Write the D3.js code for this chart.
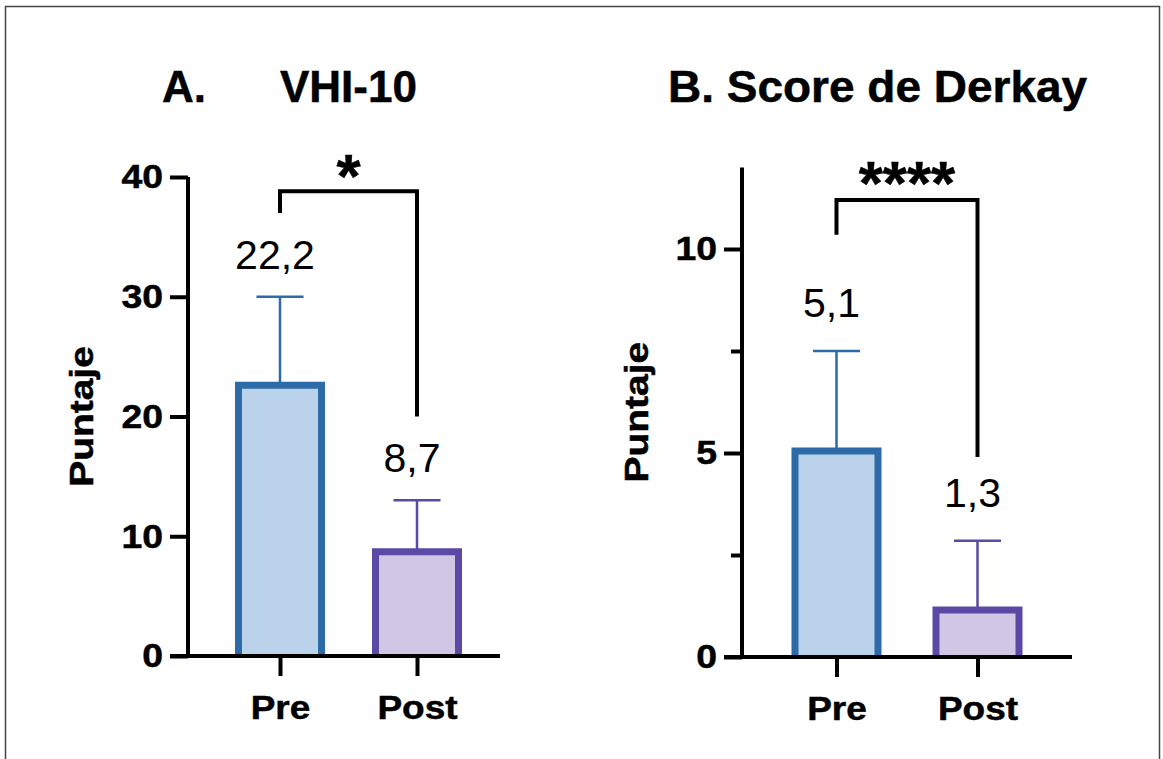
<!DOCTYPE html>
<html>
<head>
<meta charset="utf-8">
<script src="https://cdn.jsdelivr.net/npm/d3@7"></script>
<style>
  html, body { margin: 0; padding: 0; background: #fff; }
  svg { display: block; }
  text { font-family: "Liberation Sans", Arial, Helvetica, sans-serif; fill: #000; }
  .heavy { stroke: #000; stroke-width: 0.5px; }
</style>
</head>
<body>
<svg id="chart" width="1163" height="759"></svg>
<script>
// ---- data ----
const categories = ["Pre", "Post"];

const vhiMeans = [22.6, 8.7];
const vhiErrTop = [30, 13];
const vhiLabels = ["22,2", "8,7"];
const vhiTicks = [0, 10, 20, 30, 40];
const vhiBracket = [37, 38.8, 20];   // left leg end, top, right leg end
const vhiSig = "*";

const derkayMeans = [5.05, 1.15];
const derkayErrTop = [7.5, 2.85];
const derkayLabels = ["5,1", "1,3"];
const derkayTicks = [0, 5, 10];
const derkayMinorTicks = [2.5, 7.5];
const derkayBracket = [10.35, 11.2, 4.9];
const derkaySig = "****";

const titlesA = ["A.", "VHI-10"];
const titleB = "B. Score de Derkay";
const yLabel = "Puntaje";

// ---- styles ----
const fills = ["#bad2ea", "#d1c6e3"];
const strokes = ["#2d6aa8", "#5a4aa6"];

const svg = d3.select("#chart");

svg.append("rect")
  .attr("x", 5.5).attr("y", 6.5)
  .attr("width", 1154).attr("height", 800)
  .attr("fill", "none").attr("stroke", "#444").attr("stroke-width", 1.5);

function stretch(sel, f) {
  sel.each(function () {
    const len = this.getComputedTextLength();
    d3.select(this).attr("textLength", len * f).attr("lengthAdjust", "spacingAndGlyphs");
  });
}

function panel(cfg) {
  const g = svg.append("g");
  const y = d3.scaleLinear().domain(cfg.yDomain).range(cfg.yRange);
  const x = d3.scalePoint().domain(categories).range(cfg.xRange);
  const y0 = y(0);
  const barW = 83, capW = 47;

  // error bars
  g.selectAll(".err").data(categories).enter().append("path")
    .attr("d", (c, i) => {
      const cx = x(c);
      return `M${cx},${y(cfg.means[i])}V${y(cfg.errs[i])}M${cx - capW / 2},${y(cfg.errs[i])}H${cx + capW / 2}`;
    })
    .attr("fill", "none")
    .attr("stroke", (c, i) => strokes[i])
    .attr("stroke-width", 2.5);

  // bars (open at bottom)
  g.selectAll(".bar").data(categories).enter().append("path")
    .attr("d", (c, i) => {
      const l = x(c) - barW / 2, r = x(c) + barW / 2, t = y(cfg.means[i]);
      return `M${l},${y0}V${t}H${r}V${y0}`;
    })
    .attr("fill", (c, i) => fills[i])
    .attr("stroke", (c, i) => strokes[i])
    .attr("stroke-width", 7)
    .attr("stroke-linejoin", "miter");

  // y axis
  const ya = g.append("g").attr("transform", `translate(${cfg.axisX},0)`)
    .call(d3.axisLeft(y).tickValues(cfg.ticks).tickSize(18).tickSizeOuter(0).tickPadding(7).tickFormat(d3.format("d")));
  ya.select(".domain").attr("stroke", "#000").attr("stroke-width", 4).attr("d", `M0,${cfg.yRange[0] + 2}V${cfg.yRange[1]}`);
  ya.selectAll(".tick line").attr("stroke", "#000").attr("stroke-width", 4);
  ya.selectAll(".tick text").attr("font-size", 34).attr("font-weight", "bold").attr("class", "heavy")
    .style("font-family", '"Liberation Sans", Arial, sans-serif').call(stretch, 1.1);

  if (cfg.minor) {
    g.append("g").attr("transform", `translate(${cfg.axisX},0)`)
      .call(d3.axisLeft(y).tickValues(cfg.minor).tickSize(11).tickSizeOuter(0).tickFormat(""))
      .call(s => s.select(".domain").remove())
      .selectAll(".tick line").attr("stroke", "#000").attr("stroke-width", 4);
  }

  // x axis
  const xa = g.append("g").attr("transform", `translate(0,${y0})`)
    .call(d3.axisBottom(x).tickSize(20).tickSizeOuter(0).tickPadding(20));
  xa.select(".domain").attr("stroke", "#000").attr("stroke-width", 4)
    .attr("d", `M${cfg.axisX - 18},0H${cfg.xAxisEnd}`);
  xa.selectAll(".tick line").attr("stroke", "#000").attr("stroke-width", 4);
  xa.selectAll(".tick text").attr("font-size", 33).attr("font-weight", "bold").attr("class", "heavy")
    .style("font-family", '"Liberation Sans", Arial, sans-serif').call(stretch, 1.12);

  // value labels
  g.selectAll(".vlab").data(categories).enter().append("text")
    .attr("x", c => x(c) - 5)
    .attr("y", (c, i) => y(cfg.errs[i]) - cfg.labelOffset)
    .attr("text-anchor", "middle")
    .attr("font-size", 41)
    .text((c, i) => cfg.labels[i]);

  // significance bracket
  const xl = x(categories[0]), xr = x(categories[1]);
  g.append("path")
    .attr("d", `M${xl},${y(cfg.bracket[0])}V${y(cfg.bracket[1])}H${xr}V${y(cfg.bracket[2])}`)
    .attr("fill", "none").attr("stroke", "#000").attr("stroke-width", 4)
    .attr("stroke-linejoin", "miter");
  g.append("text")
    .attr("x", (xl + xr) / 2).attr("y", cfg.sigY)
    .attr("text-anchor", "middle")
    .attr("font-size", 62).attr("font-weight", "bold").attr("class", "heavy")
    .text(cfg.sig);

  // y label
  const cy = (cfg.yRange[0] + cfg.yRange[1]) / 2;
  g.append("text")
    .attr("transform", `translate(${cfg.yLabelX},${cy}) rotate(-90)`)
    .attr("text-anchor", "middle")
    .attr("font-size", 33).attr("font-weight", "bold").attr("class", "heavy")
    .text(yLabel).call(stretch, 1.18);
}

panel({
  yDomain: [0, 40], yRange: [656, 177], xRange: [280, 417],
  axisX: 188, xAxisEnd: 500, ticks: vhiTicks, minor: null,
  means: vhiMeans, errs: vhiErrTop, labels: vhiLabels, labelOffset: 28,
  bracket: vhiBracket, sig: vhiSig, sigY: 197, yLabelX: 93
});

panel({
  yDomain: [0, 12], yRange: [657, 167.4], xRange: [836.5, 977.5],
  axisX: 742, xAxisEnd: 1072, ticks: derkayTicks, minor: derkayMinorTicks,
  means: derkayMeans, errs: derkayErrTop, labels: derkayLabels, labelOffset: 34,
  bracket: derkayBracket, sig: derkaySig, sigY: 204, yLabelX: 648
});

// titles
svg.append("text").attr("x", 162).attr("y", 102).attr("font-size", 44).attr("font-weight", "bold").attr("class", "heavy").text(titlesA[0]);
svg.append("text").attr("x", 280).attr("y", 102).attr("font-size", 44).attr("font-weight", "bold").attr("class", "heavy").text(titlesA[1]);
svg.append("text").attr("x", 668).attr("y", 102).attr("font-size", 44).attr("font-weight", "bold").attr("class", "heavy").text(titleB)
  .call(stretch, 1.045);
</script>
</body>
</html>
